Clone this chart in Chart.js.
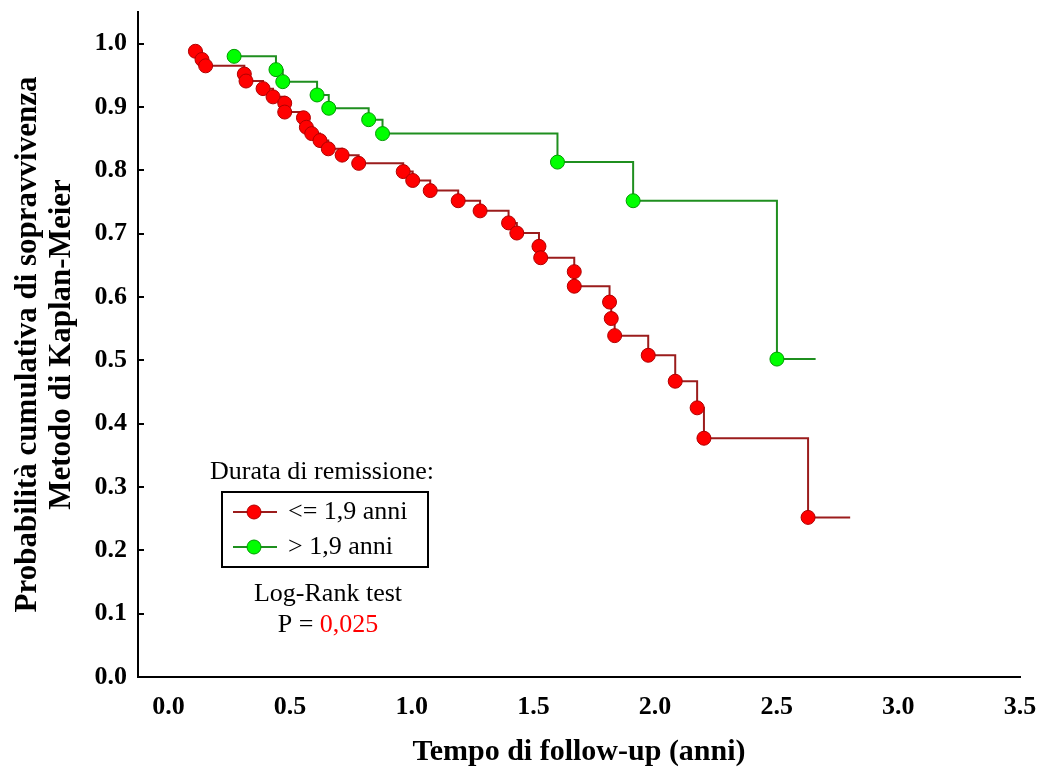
<!DOCTYPE html>
<html>
<head>
<meta charset="utf-8">
<script src="https://cdn.jsdelivr.net/npm/chart.js@4/dist/chart.umd.min.js"></script>
<style>
  html, body { margin: 0; padding: 0; background: #ffffff; }
  #wrap { width: 1041px; height: 769px; }
</style>
</head>
<body>
<div id="wrap"><canvas id="c" width="1041" height="769"></canvas></div>
<script>
// ---- data ----
const redLabel = '<= 1,9 anni';
const redTimes = [0.111,0.138,0.153,0.312,0.319,0.389,0.430,0.478,0.478,0.555,0.567,0.589,0.623,0.657,0.714,0.782,0.965,1.004,1.076,1.191,1.281,1.398,1.432,1.523,1.530,1.668,1.668,1.813,1.820,1.834,1.972,2.083,2.173,2.201,2.629,2.802];
const redSurv  = [0.988,0.975,0.965,0.952,0.941,0.929,0.916,0.906,0.892,0.883,0.868,0.858,0.847,0.834,0.824,0.811,0.798,0.784,0.768,0.752,0.736,0.717,0.701,0.680,0.662,0.640,0.617,0.592,0.566,0.539,0.508,0.467,0.425,0.377,0.252,0.252];

const greenLabel = '> 1,9 anni';
const greenTimes = [0.270,0.442,0.470,0.611,0.659,0.823,0.880,1.599,1.910,2.501,2.660];
const greenSurv  = [0.980,0.959,0.940,0.919,0.898,0.880,0.858,0.813,0.752,0.502,0.502];

const xTicks = [0.0,0.5,1.0,1.5,2.0,2.5,3.0,3.5];
const yTicks = [0.0,0.1,0.2,0.3,0.4,0.5,0.6,0.7,0.8,0.9,1.0];

const xTitle = 'Tempo di follow-up (anni)';
const yTitle = ['Probabilità cumulativa di sopravvivenza', 'Metodo di Kaplan-Meier'];
const legendTitle = 'Durata di remissione:';
const testLabel = 'Log-Rank test';
const pPrefix = 'P = ';
const pValue = '0,025';

// ---- styles ----
const SERIF = '"Liberation Serif", "Times New Roman", serif';
const RED_FILL = '#ff0000', RED_EDGE = '#b00000', RED_LINE = '#9b1c1c';
const GRN_FILL = '#00ff00', GRN_EDGE = '#009a00', GRN_LINE = '#1f8f1f';

function toPoints(xs, ys) { return xs.map((x, i) => ({ x: x, y: ys[i] })); }
const lastNoMarker = (r) => (ctx) => (ctx.dataIndex === ctx.dataset.data.length - 1 ? 0 : r);

const inwardTicks = {
  id: 'inwardTicks',
  afterDraw(chart) {
    const ctx = chart.ctx, ys = chart.scales.y, area = chart.chartArea;
    ctx.save();
    ctx.strokeStyle = '#000';
    ctx.lineWidth = 2;
    yTicks.forEach(v => {
      const py = Math.round(ys.getPixelForValue(v));
      ctx.beginPath();
      ctx.moveTo(area.left, py);
      ctx.lineTo(area.left + 6, py);
      ctx.stroke();
    });
    ctx.restore();
  }
};

const annotations = {
  id: 'annotations',
  afterDraw(chart) {
    const ctx = chart.ctx;
    ctx.save();
    ctx.textBaseline = 'middle';
    ctx.fillStyle = '#000';
    ctx.font = '26px ' + SERIF;
    ctx.textAlign = 'center';
    ctx.fillText(legendTitle, 322, 472);

    ctx.strokeStyle = '#000';
    ctx.lineWidth = 2;
    ctx.strokeRect(222, 492, 206, 75);

    const rows = [
      { label: chart.data.datasets[0].label, line: RED_LINE, fill: RED_FILL, edge: RED_EDGE, y: 512 },
      { label: chart.data.datasets[1].label, line: GRN_LINE, fill: GRN_FILL, edge: GRN_EDGE, y: 547 }
    ];
    rows.forEach(r => {
      ctx.strokeStyle = r.line;
      ctx.lineWidth = 2;
      ctx.beginPath();
      ctx.moveTo(233, r.y);
      ctx.lineTo(277, r.y);
      ctx.stroke();
      ctx.beginPath();
      ctx.arc(254, r.y, 7, 0, Math.PI * 2);
      ctx.fillStyle = r.fill;
      ctx.fill();
      ctx.lineWidth = 1;
      ctx.strokeStyle = r.edge;
      ctx.stroke();
      ctx.fillStyle = '#000';
      ctx.textAlign = 'left';
      ctx.fillText(r.label, 288, r.y);
    });

    ctx.textAlign = 'center';
    ctx.fillStyle = '#000';
    ctx.fillText(testLabel, 328, 594);
    const w1 = ctx.measureText(pPrefix).width, w2 = ctx.measureText(pValue).width;
    const start = 328 - (w1 + w2) / 2;
    ctx.textAlign = 'left';
    ctx.fillText(pPrefix, start, 625);
    ctx.fillStyle = '#ff0000';
    ctx.fillText(pValue, start + w1, 625);
    ctx.restore();
  }
};

new Chart(document.getElementById('c'), {
  type: 'line',
  data: {
    datasets: [
      {
        label: redLabel,
        data: toPoints(redTimes, redSurv),
        stepped: true,
        borderColor: RED_LINE,
        borderWidth: 2,
        pointRadius: lastNoMarker(7),
        pointBackgroundColor: RED_FILL,
        pointBorderColor: RED_EDGE,
        pointBorderWidth: 1,
        fill: false
      },
      {
        label: greenLabel,
        data: toPoints(greenTimes, greenSurv),
        stepped: true,
        borderColor: GRN_LINE,
        borderWidth: 2,
        pointRadius: lastNoMarker(7),
        pointBackgroundColor: GRN_FILL,
        pointBorderColor: GRN_EDGE,
        pointBorderWidth: 1,
        fill: false
      }
    ]
  },
  options: {
    responsive: false,
    animation: false,
    devicePixelRatio: 1,
    layout: { padding: { top: 12, right: 21, left: 0, bottom: 0 } },
    plugins: { legend: { display: false }, tooltip: { enabled: false } },
    scales: {
      x: {
        type: 'linear',
        min: -0.125,
        max: 3.5,
        afterBuildTicks: (s) => { s.ticks = xTicks.map(v => ({ value: v })); },
        afterFit: (s) => { s.height = 92; s.paddingLeft = 0; s.paddingRight = 0; },
        grid: { display: false, drawTicks: false },
        border: { display: true, color: '#000', width: 2 },
        ticks: {
          padding: 15,
          color: '#000',
          font: { family: SERIF, size: 26, weight: 'bold' },
          callback: (v) => Number(v).toFixed(1),
          maxRotation: 0
        },
        title: {
          display: true,
          text: xTitle,
          color: '#000',
          font: { family: SERIF, size: 30, weight: 'bold', lineHeight: 1.15 },
          padding: { top: 0, bottom: 0 }
        }
      },
      y: {
        type: 'linear',
        min: 0,
        max: 1.05,
        afterBuildTicks: (s) => { s.ticks = yTicks.map(v => ({ value: v })); },
        afterFit: (s) => { s.width = 138; s.paddingTop = 0; s.paddingBottom = 0; },
        grid: { display: false, drawTicks: false },
        border: { display: true, color: '#000', width: 2 },
        ticks: {
          padding: 11,
          color: '#000',
          font: { family: SERIF, size: 26, weight: 'bold' },
          callback: (v) => Number(v).toFixed(1)
        },
        title: {
          display: true,
          text: yTitle,
          color: '#000',
          font: { family: SERIF, size: 31, weight: 'bold', lineHeight: 1.1 },
          padding: { top: 11, bottom: 0 }
        }
      }
    }
  },
  plugins: [inwardTicks, annotations]
});
</script>
</body>
</html>
